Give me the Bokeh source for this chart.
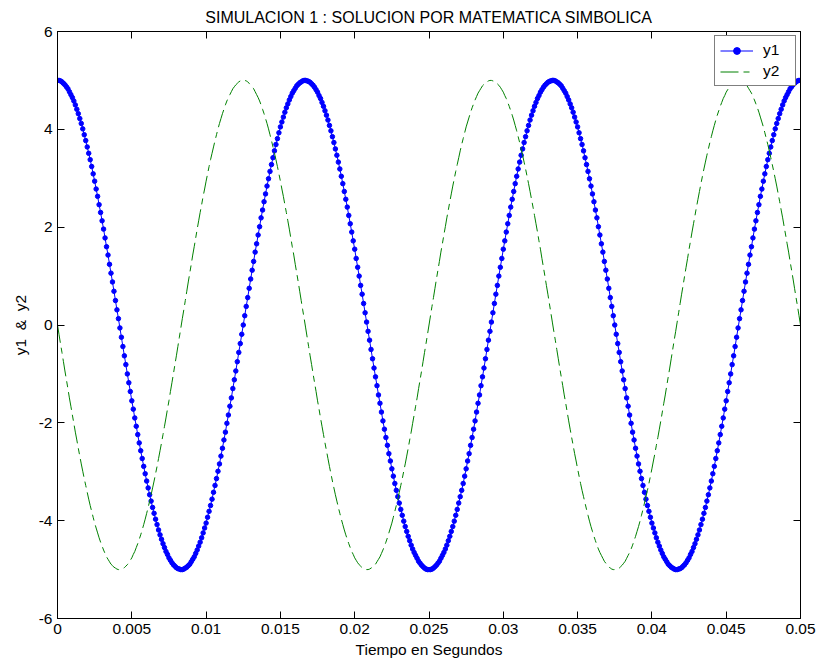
from bokeh.plotting import figure
from bokeh.models import (Range1d, FixedTicker, LinearAxis, Legend, LegendItem,
                          CustomJSTickFormatter)
from bokeh.embed import file_html
from bokeh.resources import INLINE

title_text = "SIMULACION 1 : SOLUCION POR MATEMATICA SIMBOLICA"
x_label = "Tiempo en Segundos"
y_label = "y1\u00a0\u00a0&\u00a0\u00a0y2"
series_names = ["y1", "y2"]

x_ticks = [0, 0.005, 0.01, 0.015, 0.02, 0.025, 0.03, 0.035, 0.04, 0.045, 0.05]
x_tick_labels = ["0", "0.005", "0.01", "0.015", "0.02", "0.025", "0.03", "0.035", "0.04", "0.045", "0.05"]
y_ticks = [-6, -4, -2, 0, 2, 4, 6]
y_tick_labels = ["-6", "-4", "-2", "0", "2", "4", "6"]

# time samples (s)
t = [
    0.0000, 0.0001, 0.0002, 0.0003, 0.0004, 0.0005, 0.0006, 0.0007, 0.0008, 0.0009,
    0.0010, 0.0011, 0.0012, 0.0013, 0.0014, 0.0015, 0.0016, 0.0017, 0.0018, 0.0019,
    0.0020, 0.0021, 0.0022, 0.0023, 0.0024, 0.0025, 0.0026, 0.0027, 0.0028, 0.0029,
    0.0030, 0.0031, 0.0032, 0.0033, 0.0034, 0.0035, 0.0036, 0.0037, 0.0038, 0.0039,
    0.0040, 0.0041, 0.0042, 0.0043, 0.0044, 0.0045, 0.0046, 0.0047, 0.0048, 0.0049,
    0.0050, 0.0051, 0.0052, 0.0053, 0.0054, 0.0055, 0.0056, 0.0057, 0.0058, 0.0059,
    0.0060, 0.0061, 0.0062, 0.0063, 0.0064, 0.0065, 0.0066, 0.0067, 0.0068, 0.0069,
    0.0070, 0.0071, 0.0072, 0.0073, 0.0074, 0.0075, 0.0076, 0.0077, 0.0078, 0.0079,
    0.0080, 0.0081, 0.0082, 0.0083, 0.0084, 0.0085, 0.0086, 0.0087, 0.0088, 0.0089,
    0.0090, 0.0091, 0.0092, 0.0093, 0.0094, 0.0095, 0.0096, 0.0097, 0.0098, 0.0099,
    0.0100, 0.0101, 0.0102, 0.0103, 0.0104, 0.0105, 0.0106, 0.0107, 0.0108, 0.0109,
    0.0110, 0.0111, 0.0112, 0.0113, 0.0114, 0.0115, 0.0116, 0.0117, 0.0118, 0.0119,
    0.0120, 0.0121, 0.0122, 0.0123, 0.0124, 0.0125, 0.0126, 0.0127, 0.0128, 0.0129,
    0.0130, 0.0131, 0.0132, 0.0133, 0.0134, 0.0135, 0.0136, 0.0137, 0.0138, 0.0139,
    0.0140, 0.0141, 0.0142, 0.0143, 0.0144, 0.0145, 0.0146, 0.0147, 0.0148, 0.0149,
    0.0150, 0.0151, 0.0152, 0.0153, 0.0154, 0.0155, 0.0156, 0.0157, 0.0158, 0.0159,
    0.0160, 0.0161, 0.0162, 0.0163, 0.0164, 0.0165, 0.0166, 0.0167, 0.0168, 0.0169,
    0.0170, 0.0171, 0.0172, 0.0173, 0.0174, 0.0175, 0.0176, 0.0177, 0.0178, 0.0179,
    0.0180, 0.0181, 0.0182, 0.0183, 0.0184, 0.0185, 0.0186, 0.0187, 0.0188, 0.0189,
    0.0190, 0.0191, 0.0192, 0.0193, 0.0194, 0.0195, 0.0196, 0.0197, 0.0198, 0.0199,
    0.0200, 0.0201, 0.0202, 0.0203, 0.0204, 0.0205, 0.0206, 0.0207, 0.0208, 0.0209,
    0.0210, 0.0211, 0.0212, 0.0213, 0.0214, 0.0215, 0.0216, 0.0217, 0.0218, 0.0219,
    0.0220, 0.0221, 0.0222, 0.0223, 0.0224, 0.0225, 0.0226, 0.0227, 0.0228, 0.0229,
    0.0230, 0.0231, 0.0232, 0.0233, 0.0234, 0.0235, 0.0236, 0.0237, 0.0238, 0.0239,
    0.0240, 0.0241, 0.0242, 0.0243, 0.0244, 0.0245, 0.0246, 0.0247, 0.0248, 0.0249,
    0.0250, 0.0251, 0.0252, 0.0253, 0.0254, 0.0255, 0.0256, 0.0257, 0.0258, 0.0259,
    0.0260, 0.0261, 0.0262, 0.0263, 0.0264, 0.0265, 0.0266, 0.0267, 0.0268, 0.0269,
    0.0270, 0.0271, 0.0272, 0.0273, 0.0274, 0.0275, 0.0276, 0.0277, 0.0278, 0.0279,
    0.0280, 0.0281, 0.0282, 0.0283, 0.0284, 0.0285, 0.0286, 0.0287, 0.0288, 0.0289,
    0.0290, 0.0291, 0.0292, 0.0293, 0.0294, 0.0295, 0.0296, 0.0297, 0.0298, 0.0299,
    0.0300, 0.0301, 0.0302, 0.0303, 0.0304, 0.0305, 0.0306, 0.0307, 0.0308, 0.0309,
    0.0310, 0.0311, 0.0312, 0.0313, 0.0314, 0.0315, 0.0316, 0.0317, 0.0318, 0.0319,
    0.0320, 0.0321, 0.0322, 0.0323, 0.0324, 0.0325, 0.0326, 0.0327, 0.0328, 0.0329,
    0.0330, 0.0331, 0.0332, 0.0333, 0.0334, 0.0335, 0.0336, 0.0337, 0.0338, 0.0339,
    0.0340, 0.0341, 0.0342, 0.0343, 0.0344, 0.0345, 0.0346, 0.0347, 0.0348, 0.0349,
    0.0350, 0.0351, 0.0352, 0.0353, 0.0354, 0.0355, 0.0356, 0.0357, 0.0358, 0.0359,
    0.0360, 0.0361, 0.0362, 0.0363, 0.0364, 0.0365, 0.0366, 0.0367, 0.0368, 0.0369,
    0.0370, 0.0371, 0.0372, 0.0373, 0.0374, 0.0375, 0.0376, 0.0377, 0.0378, 0.0379,
    0.0380, 0.0381, 0.0382, 0.0383, 0.0384, 0.0385, 0.0386, 0.0387, 0.0388, 0.0389,
    0.0390, 0.0391, 0.0392, 0.0393, 0.0394, 0.0395, 0.0396, 0.0397, 0.0398, 0.0399,
    0.0400, 0.0401, 0.0402, 0.0403, 0.0404, 0.0405, 0.0406, 0.0407, 0.0408, 0.0409,
    0.0410, 0.0411, 0.0412, 0.0413, 0.0414, 0.0415, 0.0416, 0.0417, 0.0418, 0.0419,
    0.0420, 0.0421, 0.0422, 0.0423, 0.0424, 0.0425, 0.0426, 0.0427, 0.0428, 0.0429,
    0.0430, 0.0431, 0.0432, 0.0433, 0.0434, 0.0435, 0.0436, 0.0437, 0.0438, 0.0439,
    0.0440, 0.0441, 0.0442, 0.0443, 0.0444, 0.0445, 0.0446, 0.0447, 0.0448, 0.0449,
    0.0450, 0.0451, 0.0452, 0.0453, 0.0454, 0.0455, 0.0456, 0.0457, 0.0458, 0.0459,
    0.0460, 0.0461, 0.0462, 0.0463, 0.0464, 0.0465, 0.0466, 0.0467, 0.0468, 0.0469,
    0.0470, 0.0471, 0.0472, 0.0473, 0.0474, 0.0475, 0.0476, 0.0477, 0.0478, 0.0479,
    0.0480, 0.0481, 0.0482, 0.0483, 0.0484, 0.0485, 0.0486, 0.0487, 0.0488, 0.0489,
    0.0490, 0.0491, 0.0492, 0.0493, 0.0494, 0.0495, 0.0496, 0.0497, 0.0498, 0.0499,
    0.0500,
]

y1 = [
    5.00, 5.00, 4.99, 4.97, 4.94, 4.91, 4.87, 4.83, 4.77, 4.71,
    4.65, 4.58, 4.50, 4.41, 4.32, 4.22, 4.12, 4.01, 3.89, 3.77,
    3.64, 3.51, 3.38, 3.24, 3.09, 2.94, 2.78, 2.63, 2.46, 2.30,
    2.13, 1.96, 1.78, 1.60, 1.43, 1.24, 1.06, 0.88, 0.69, 0.50,
    0.31, 0.13, -0.06, -0.25, -0.44, -0.63, -0.81, -1.00, -1.18, -1.36,
    -1.55, -1.72, -1.90, -2.07, -2.24, -2.41, -2.57, -2.73, -2.89, -3.04,
    -3.19, -3.33, -3.47, -3.60, -3.73, -3.85, -3.97, -4.08, -4.19, -4.29,
    -4.38, -4.47, -4.55, -4.63, -4.69, -4.76, -4.81, -4.86, -4.90, -4.93,
    -4.96, -4.98, -4.99, -5.00, -5.00, -4.99, -4.97, -4.95, -4.92, -4.89,
    -4.84, -4.79, -4.74, -4.67, -4.60, -4.52, -4.44, -4.35, -4.25, -4.15,
    -4.05, -3.93, -3.81, -3.69, -3.56, -3.42, -3.28, -3.14, -2.99, -2.84,
    -2.68, -2.52, -2.35, -2.19, -2.01, -1.84, -1.66, -1.49, -1.30, -1.12,
    -0.94, -0.75, -0.56, -0.38, -0.19, 0.00, 0.19, 0.38, 0.56, 0.75,
    0.94, 1.12, 1.30, 1.49, 1.66, 1.84, 2.01, 2.19, 2.35, 2.52,
    2.68, 2.84, 2.99, 3.14, 3.28, 3.42, 3.56, 3.69, 3.81, 3.93,
    4.05, 4.15, 4.25, 4.35, 4.44, 4.52, 4.60, 4.67, 4.74, 4.79,
    4.84, 4.89, 4.92, 4.95, 4.97, 4.99, 5.00, 5.00, 4.99, 4.98,
    4.96, 4.93, 4.90, 4.86, 4.81, 4.76, 4.69, 4.63, 4.55, 4.47,
    4.38, 4.29, 4.19, 4.08, 3.97, 3.85, 3.73, 3.60, 3.47, 3.33,
    3.19, 3.04, 2.89, 2.73, 2.57, 2.41, 2.24, 2.07, 1.90, 1.72,
    1.55, 1.36, 1.18, 1.00, 0.81, 0.63, 0.44, 0.25, 0.06, -0.13,
    -0.31, -0.50, -0.69, -0.88, -1.06, -1.24, -1.43, -1.60, -1.78, -1.96,
    -2.13, -2.30, -2.46, -2.63, -2.78, -2.94, -3.09, -3.24, -3.38, -3.51,
    -3.64, -3.77, -3.89, -4.01, -4.12, -4.22, -4.32, -4.41, -4.50, -4.58,
    -4.65, -4.71, -4.77, -4.83, -4.87, -4.91, -4.94, -4.97, -4.99, -5.00,
    -5.00, -5.00, -4.99, -4.97, -4.94, -4.91, -4.87, -4.83, -4.77, -4.71,
    -4.65, -4.58, -4.50, -4.41, -4.32, -4.22, -4.12, -4.01, -3.89, -3.77,
    -3.64, -3.51, -3.38, -3.24, -3.09, -2.94, -2.78, -2.63, -2.46, -2.30,
    -2.13, -1.96, -1.78, -1.60, -1.43, -1.24, -1.06, -0.88, -0.69, -0.50,
    -0.31, -0.13, 0.06, 0.25, 0.44, 0.63, 0.81, 1.00, 1.18, 1.36,
    1.55, 1.72, 1.90, 2.07, 2.24, 2.41, 2.57, 2.73, 2.89, 3.04,
    3.19, 3.33, 3.47, 3.60, 3.73, 3.85, 3.97, 4.08, 4.19, 4.29,
    4.38, 4.47, 4.55, 4.63, 4.69, 4.76, 4.81, 4.86, 4.90, 4.93,
    4.96, 4.98, 4.99, 5.00, 5.00, 4.99, 4.97, 4.95, 4.92, 4.89,
    4.84, 4.79, 4.74, 4.67, 4.60, 4.52, 4.44, 4.35, 4.25, 4.15,
    4.05, 3.93, 3.81, 3.69, 3.56, 3.42, 3.28, 3.14, 2.99, 2.84,
    2.68, 2.52, 2.35, 2.19, 2.01, 1.84, 1.66, 1.49, 1.30, 1.12,
    0.94, 0.75, 0.56, 0.38, 0.19, 0.00, -0.19, -0.38, -0.56, -0.75,
    -0.94, -1.12, -1.30, -1.49, -1.66, -1.84, -2.01, -2.19, -2.35, -2.52,
    -2.68, -2.84, -2.99, -3.14, -3.28, -3.42, -3.56, -3.69, -3.81, -3.93,
    -4.05, -4.15, -4.25, -4.35, -4.44, -4.52, -4.60, -4.67, -4.74, -4.79,
    -4.84, -4.89, -4.92, -4.95, -4.97, -4.99, -5.00, -5.00, -4.99, -4.98,
    -4.96, -4.93, -4.90, -4.86, -4.81, -4.76, -4.69, -4.63, -4.55, -4.47,
    -4.38, -4.29, -4.19, -4.08, -3.97, -3.85, -3.73, -3.60, -3.47, -3.33,
    -3.19, -3.04, -2.89, -2.73, -2.57, -2.41, -2.24, -2.07, -1.90, -1.72,
    -1.55, -1.36, -1.18, -1.00, -0.81, -0.63, -0.44, -0.25, -0.06, 0.13,
    0.31, 0.50, 0.69, 0.88, 1.06, 1.24, 1.43, 1.60, 1.78, 1.96,
    2.13, 2.30, 2.46, 2.63, 2.78, 2.94, 3.09, 3.24, 3.38, 3.51,
    3.64, 3.77, 3.89, 4.01, 4.12, 4.22, 4.32, 4.41, 4.50, 4.58,
    4.65, 4.71, 4.77, 4.83, 4.87, 4.91, 4.94, 4.97, 4.99, 5.00,
    5.00,
]

y2 = [
    0.00, -0.19, -0.38, -0.56, -0.75, -0.94, -1.12, -1.30, -1.49, -1.66,
    -1.84, -2.01, -2.19, -2.35, -2.52, -2.68, -2.84, -2.99, -3.14, -3.28,
    -3.42, -3.56, -3.69, -3.81, -3.93, -4.05, -4.15, -4.25, -4.35, -4.44,
    -4.52, -4.60, -4.67, -4.74, -4.79, -4.84, -4.89, -4.92, -4.95, -4.97,
    -4.99, -5.00, -5.00, -4.99, -4.98, -4.96, -4.93, -4.90, -4.86, -4.81,
    -4.76, -4.69, -4.63, -4.55, -4.47, -4.38, -4.29, -4.19, -4.08, -3.97,
    -3.85, -3.73, -3.60, -3.47, -3.33, -3.19, -3.04, -2.89, -2.73, -2.57,
    -2.41, -2.24, -2.07, -1.90, -1.72, -1.55, -1.36, -1.18, -1.00, -0.81,
    -0.63, -0.44, -0.25, -0.06, 0.13, 0.31, 0.50, 0.69, 0.88, 1.06,
    1.24, 1.43, 1.60, 1.78, 1.96, 2.13, 2.30, 2.46, 2.63, 2.78,
    2.94, 3.09, 3.24, 3.38, 3.51, 3.64, 3.77, 3.89, 4.01, 4.12,
    4.22, 4.32, 4.41, 4.50, 4.58, 4.65, 4.71, 4.77, 4.83, 4.87,
    4.91, 4.94, 4.97, 4.99, 5.00, 5.00, 5.00, 4.99, 4.97, 4.94,
    4.91, 4.87, 4.83, 4.77, 4.71, 4.65, 4.58, 4.50, 4.41, 4.32,
    4.22, 4.12, 4.01, 3.89, 3.77, 3.64, 3.51, 3.38, 3.24, 3.09,
    2.94, 2.78, 2.63, 2.46, 2.30, 2.13, 1.96, 1.78, 1.60, 1.43,
    1.24, 1.06, 0.88, 0.69, 0.50, 0.31, 0.13, -0.06, -0.25, -0.44,
    -0.63, -0.81, -1.00, -1.18, -1.36, -1.55, -1.72, -1.90, -2.07, -2.24,
    -2.41, -2.57, -2.73, -2.89, -3.04, -3.19, -3.33, -3.47, -3.60, -3.73,
    -3.85, -3.97, -4.08, -4.19, -4.29, -4.38, -4.47, -4.55, -4.63, -4.69,
    -4.76, -4.81, -4.86, -4.90, -4.93, -4.96, -4.98, -4.99, -5.00, -5.00,
    -4.99, -4.97, -4.95, -4.92, -4.89, -4.84, -4.79, -4.74, -4.67, -4.60,
    -4.52, -4.44, -4.35, -4.25, -4.15, -4.05, -3.93, -3.81, -3.69, -3.56,
    -3.42, -3.28, -3.14, -2.99, -2.84, -2.68, -2.52, -2.35, -2.19, -2.01,
    -1.84, -1.66, -1.49, -1.30, -1.12, -0.94, -0.75, -0.56, -0.38, -0.19,
    0.00, 0.19, 0.38, 0.56, 0.75, 0.94, 1.12, 1.30, 1.49, 1.66,
    1.84, 2.01, 2.19, 2.35, 2.52, 2.68, 2.84, 2.99, 3.14, 3.28,
    3.42, 3.56, 3.69, 3.81, 3.93, 4.05, 4.15, 4.25, 4.35, 4.44,
    4.52, 4.60, 4.67, 4.74, 4.79, 4.84, 4.89, 4.92, 4.95, 4.97,
    4.99, 5.00, 5.00, 4.99, 4.98, 4.96, 4.93, 4.90, 4.86, 4.81,
    4.76, 4.69, 4.63, 4.55, 4.47, 4.38, 4.29, 4.19, 4.08, 3.97,
    3.85, 3.73, 3.60, 3.47, 3.33, 3.19, 3.04, 2.89, 2.73, 2.57,
    2.41, 2.24, 2.07, 1.90, 1.72, 1.55, 1.36, 1.18, 1.00, 0.81,
    0.63, 0.44, 0.25, 0.06, -0.13, -0.31, -0.50, -0.69, -0.88, -1.06,
    -1.24, -1.43, -1.60, -1.78, -1.96, -2.13, -2.30, -2.46, -2.63, -2.78,
    -2.94, -3.09, -3.24, -3.38, -3.51, -3.64, -3.77, -3.89, -4.01, -4.12,
    -4.22, -4.32, -4.41, -4.50, -4.58, -4.65, -4.71, -4.77, -4.83, -4.87,
    -4.91, -4.94, -4.97, -4.99, -5.00, -5.00, -5.00, -4.99, -4.97, -4.94,
    -4.91, -4.87, -4.83, -4.77, -4.71, -4.65, -4.58, -4.50, -4.41, -4.32,
    -4.22, -4.12, -4.01, -3.89, -3.77, -3.64, -3.51, -3.38, -3.24, -3.09,
    -2.94, -2.78, -2.63, -2.46, -2.30, -2.13, -1.96, -1.78, -1.60, -1.43,
    -1.24, -1.06, -0.88, -0.69, -0.50, -0.31, -0.13, 0.06, 0.25, 0.44,
    0.63, 0.81, 1.00, 1.18, 1.36, 1.55, 1.72, 1.90, 2.07, 2.24,
    2.41, 2.57, 2.73, 2.89, 3.04, 3.19, 3.33, 3.47, 3.60, 3.73,
    3.85, 3.97, 4.08, 4.19, 4.29, 4.38, 4.47, 4.55, 4.63, 4.69,
    4.76, 4.81, 4.86, 4.90, 4.93, 4.96, 4.98, 4.99, 5.00, 5.00,
    4.99, 4.97, 4.95, 4.92, 4.89, 4.84, 4.79, 4.74, 4.67, 4.60,
    4.52, 4.44, 4.35, 4.25, 4.15, 4.05, 3.93, 3.81, 3.69, 3.56,
    3.42, 3.28, 3.14, 2.99, 2.84, 2.68, 2.52, 2.35, 2.19, 2.01,
    1.84, 1.66, 1.49, 1.30, 1.12, 0.94, 0.75, 0.56, 0.38, 0.19,
    0.00,
]

assert len(t) == len(y1) == len(y2) == 501, (len(t), len(y1), len(y2))

FONT = "Liberation Sans"
FS = "15.5px"
BLUE = "#0000ff"
GREEN = "#008000"

p = figure(width=817, height=663, output_backend="svg", toolbar_location=None,
           x_range=Range1d(x_ticks[0], x_ticks[-1]),
           y_range=Range1d(y_ticks[0], y_ticks[-1]),
           min_border_left=57, min_border_right=17,
           min_border_top=31, min_border_bottom=45)

p.background_fill_color = "white"
p.border_fill_color = "white"
p.outline_line_color = "black"
p.outline_line_width = 1
p.xgrid.grid_line_color = None
p.ygrid.grid_line_color = None

p.title.text = title_text
p.title.align = "center"
p.title.text_font = FONT
p.title.text_font_size = "16px"
p.title.text_font_style = "normal"
p.title.text_color = "black"
p.title.standoff = 12

def make_formatter(vals, labs):
    return CustomJSTickFormatter(args=dict(tvals=vals, tlabs=labs), code="""
        let best = 0, d = Infinity;
        for (let i = 0; i < tvals.length; i++) {
            const e = Math.abs(tvals[i] - tick);
            if (e < d) { d = e; best = i; }
        }
        return tlabs[best];
    """)

def style_axis(ax, vals, labs):
    ax.ticker = FixedTicker(ticks=vals)
    ax.formatter = make_formatter(vals, labs)
    ax.major_tick_in = 7
    ax.major_tick_out = 0
    ax.minor_tick_line_color = None
    ax.axis_line_color = "black"
    ax.major_tick_line_color = "black"
    ax.major_label_text_font = FONT
    ax.major_label_text_font_size = FS
    ax.major_label_text_color = "black"
    ax.axis_label_text_font = FONT
    ax.axis_label_text_font_size = FS
    ax.axis_label_text_font_style = "normal"
    ax.axis_label_text_color = "black"

xa = p.xaxis[0]
style_axis(xa, x_ticks, x_tick_labels)
xa.axis_label = x_label
xa.major_label_standoff = 5
xa.axis_label_standoff = 4

ya = p.yaxis[0]
style_axis(ya, y_ticks, y_tick_labels)
ya.axis_label = y_label
ya.major_label_standoff = 5
ya.axis_label_standoff = 7

# box ticks on top and right (labels not drawn)
top_ax = LinearAxis()
style_axis(top_ax, x_ticks, x_tick_labels)
top_ax.major_label_text_font_size = "1px"
top_ax.major_label_text_color = None
top_ax.major_label_standoff = 0
p.add_layout(top_ax, "above")

right_ax = LinearAxis()
style_axis(right_ax, y_ticks, y_tick_labels)
right_ax.major_label_text_font_size = "1px"
right_ax.major_label_text_color = None
right_ax.major_label_standoff = 0
p.add_layout(right_ax, "right")

l1 = p.line(t, y1, line_color=BLUE, line_width=1)
s1 = p.scatter(t, y1, marker="circle", size=4.5, fill_color=BLUE, line_color=BLUE, line_width=1)
l2 = p.line(t, y2, line_color=GREEN, line_width=1, line_dash="18 5 6 5")

legend = Legend(items=[LegendItem(label=series_names[0], renderers=[l1, s1]),
                       LegendItem(label=series_names[1], renderers=[l2])],
                location=(657, 532), orientation="vertical",
                border_line_color="black", border_line_width=1,
                background_fill_color="white", background_fill_alpha=1,
                label_text_font=FONT, label_text_font_size=FS, label_text_color="black",
                glyph_width=33, glyph_height=17, label_height=17, label_width=27,
                spacing=3, padding=5, label_standoff=10, margin=0)
p.add_layout(legend)

open("out.html", "w").write(file_html(p, INLINE))
